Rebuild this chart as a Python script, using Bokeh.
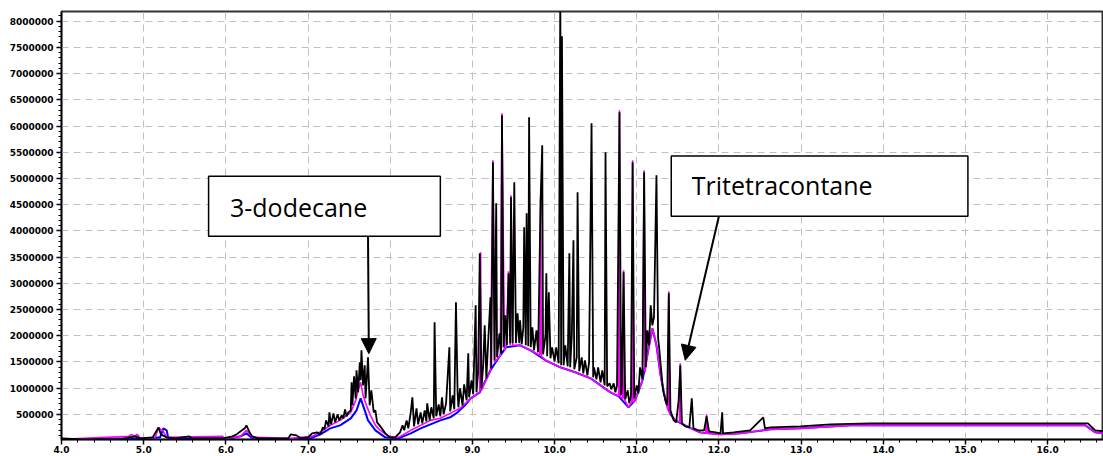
from bokeh.plotting import figure
from bokeh.models import (Range1d, SingleIntervalTicker, NumeralTickFormatter,
                          BoxAnnotation, Label, Arrow, NormalHead)
from bokeh.embed import file_html
from bokeh.resources import INLINE

# ---------------- data (retention time in min, abundance in counts) ----------------
black_t = [4.00, 4.27, 4.72, 4.82, 4.90, 4.96, 5.11, 5.18, 5.21, 5.28, 5.39, 5.55, 5.59, 5.96,
           6.08, 6.13, 6.18, 6.23, 6.25, 6.29, 6.32, 6.40, 6.76, 6.79, 6.86, 6.91, 7.00, 7.05,
           7.11, 7.15, 7.18, 7.20, 7.22, 7.25, 7.26, 7.28, 7.31, 7.33, 7.36, 7.38, 7.41, 7.43,
           7.45, 7.47, 7.49, 7.52, 7.53, 7.54, 7.56, 7.58, 7.59, 7.61, 7.63, 7.64, 7.65, 7.67,
           7.69, 7.70, 7.72, 7.73, 7.75, 7.77, 7.80, 7.82, 7.84, 7.88, 7.94, 8.00, 8.06, 8.12,
           8.15, 8.17, 8.20, 8.22, 8.25, 8.27, 8.29, 8.32, 8.34, 8.37, 8.39, 8.42, 8.44, 8.45,
           8.48, 8.50, 8.53, 8.54, 8.56, 8.59, 8.61, 8.63, 8.65, 8.68, 8.72, 8.73, 8.76, 8.78,
           8.80, 8.82, 8.83, 8.85, 8.88, 8.90, 8.93, 8.95, 8.96, 8.99, 9.01, 9.04, 9.05, 9.07,
           9.09, 9.11, 9.13, 9.15, 9.17, 9.19, 9.22, 9.23, 9.25, 9.27, 9.29, 9.30, 9.33, 9.35,
           9.36, 9.38, 9.40, 9.42, 9.44, 9.46, 9.47, 9.49, 9.51, 9.53, 9.55, 9.57, 9.58, 9.60,
           9.62, 9.63, 9.65, 9.66, 9.68, 9.69, 9.71, 9.73, 9.75, 9.78, 9.80, 9.83, 9.85, 9.86,
           9.89, 9.90, 9.91, 9.93, 9.95, 9.97, 10.00, 10.02, 10.05, 10.07, 10.08, 10.09, 10.11,
           10.13, 10.16, 10.18, 10.19, 10.21, 10.23, 10.24, 10.27, 10.28, 10.30, 10.33, 10.35,
           10.37, 10.40, 10.42, 10.45, 10.47, 10.48, 10.51, 10.53, 10.56, 10.58, 10.61, 10.62,
           10.64, 10.67, 10.69, 10.72, 10.74, 10.76, 10.79, 10.81, 10.82, 10.84, 10.86, 10.89,
           10.91, 10.93, 10.95, 10.97, 11.00, 11.02, 11.04, 11.07, 11.09, 11.11, 11.13, 11.15,
           11.17, 11.19, 11.21, 11.24, 11.26, 11.27, 11.30, 11.32, 11.35, 11.37, 11.39, 11.41,
           11.45, 11.48, 11.51, 11.53, 11.55, 11.59, 11.64, 11.67, 11.69, 11.75, 11.82, 11.85,
           11.88, 11.96, 12.02, 12.04, 12.05, 12.18, 12.38, 12.54, 12.56, 12.63, 12.99, 13.36,
           13.84, 14.82, 15.42, 16.03, 16.49, 16.58, 16.68]
black_y = [42000, 23000, 23000, 61000, 80000, 42000, 61000, 252000, 118000, 61000, 42000,
           80000, 42000, 42000, 80000, 118000, 176000, 233000, 290000, 156000, 80000, 42000,
           42000, 118000, 99000, 42000, 61000, 137000, 156000, 118000, 252000, 214000, 385000,
           271000, 538000, 309000, 519000, 347000, 500000, 385000, 481000, 424000, 595000,
           462000, 538000, 576000, 1111000, 672000, 1225000, 805000, 1340000, 920000, 1492000,
           1149000, 1721000, 1053000, 1435000, 805000, 1302000, 1588000, 672000, 958000,
           538000, 576000, 347000, 271000, 137000, 61000, 61000, 156000, 290000, 195000,
           385000, 233000, 538000, 824000, 271000, 615000, 309000, 538000, 328000, 576000,
           366000, 710000, 385000, 634000, 424000, 2256000, 462000, 691000, 462000, 824000,
           500000, 710000, 1779000, 557000, 863000, 595000, 2637000, 920000, 634000, 996000,
           672000, 1073000, 767000, 1664000, 824000, 1149000, 882000, 2580000, 920000,
           1302000, 3572000, 996000, 1397000, 2198000, 1187000, 1817000, 2733000, 1378000,
           5309000, 1531000, 4527000, 1588000, 2046000, 1664000, 6206000, 1779000, 2389000,
           1817000, 3191000, 1855000, 4641000, 1855000, 4928000, 1855000, 2427000, 1855000,
           2294000, 1836000, 2160000, 4069000, 1817000, 4336000, 1798000, 6168000, 1779000,
           2160000, 1721000, 2103000, 1683000, 4584000, 5634000, 1645000, 2008000, 3191000,
           1607000, 2828000, 1569000, 1779000, 1511000, 1779000, 1473000, 8600000, 1435000,
           7714000, 1435000, 1817000, 1416000, 3572000, 1397000, 2008000, 3821000, 1359000,
           1588000, 4737000, 1321000, 1588000, 1282000, 1531000, 1244000, 1492000, 6053000,
           1206000, 1397000, 1168000, 1397000, 1111000, 1340000, 1053000, 5500000, 1034000,
           1092000, 977000, 1092000, 920000, 1053000, 6263000, 863000, 1053000, 3210000,
           786000, 958000, 710000, 863000, 5309000, 805000, 1053000, 901000, 1397000, 1170000,
           5118000, 1397000, 2103000, 1817000, 2580000, 2198000, 2351000, 5061000, 1950000,
           1817000, 1302000, 958000, 767000, 672000, 2809000, 576000, 385000, 347000, 767000,
           1435000, 328000, 271000, 252000, 805000, 233000, 195000, 195000, 462000, 176000,
           156000, 137000, 538000, 137000, 156000, 195000, 443000, 233000, 252000, 271000,
           309000, 328000, 328000, 328000, 328000, 328000, 195000, 176000]

magenta_t = [4.00, 4.82, 4.85, 4.89, 4.92, 4.96, 5.14, 5.18, 5.23, 5.28, 5.96, 5.98, 6.18, 6.25,
             6.32, 6.79, 6.91, 7.05, 7.18, 7.27, 7.39, 7.52, 7.58, 7.61, 7.64, 7.67, 7.71, 7.76,
             7.82, 7.88, 7.98, 8.10, 8.25, 8.37, 8.49, 8.61, 8.73, 8.85, 8.98, 9.09, 9.10, 9.11,
             9.22, 9.25, 9.27, 9.34, 9.36, 9.39, 9.41, 9.44, 9.46, 9.47, 9.49, 9.58, 9.71, 9.82,
             9.83, 9.84, 9.89, 10.07, 10.25, 10.44, 10.56, 10.68, 10.78, 10.79, 10.80, 10.83,
             10.84, 10.85, 10.90, 10.94, 10.95, 10.96, 10.98, 11.07, 11.09, 11.10, 11.14, 11.19,
             11.24, 11.29, 11.35, 11.38, 11.39, 11.40, 11.47, 11.52, 11.53, 11.54, 11.66, 11.77,
             11.84, 11.85, 11.86, 12.02, 12.26, 12.63, 12.99, 13.60, 15.42, 16.46, 16.58, 16.68]
magenta_y = [23000, 80000, 118000, 80000, 118000, 42000, 61000, 233000, 195000, 61000, 80000,
             42000, 80000, 195000, 61000, 42000, 61000, 80000, 195000, 290000, 385000, 538000,
             767000, 958000, 1111000, 863000, 672000, 481000, 290000, 195000, 80000, 61000,
             195000, 290000, 385000, 424000, 519000, 615000, 805000, 920000, 3591000, 958000,
             1340000, 5347000, 1492000, 1626000, 6244000, 1721000, 1779000, 3229000, 1817000,
             4679000, 1817000, 1817000, 1721000, 1626000, 4622000, 1607000, 1531000, 1397000,
             1302000, 1187000, 1053000, 920000, 843000, 6301000, 824000, 805000, 3248000,
             786000, 634000, 729000, 5347000, 729000, 767000, 1149000, 5157000, 1302000,
             1721000, 2141000, 1817000, 1244000, 767000, 576000, 2847000, 519000, 385000,
             347000, 1473000, 328000, 233000, 156000, 137000, 500000, 137000, 118000, 137000,
             214000, 233000, 290000, 290000, 290000, 156000, 137000]

blue_t = [4.00, 5.08, 5.20, 5.24, 5.28, 5.30, 6.06, 6.18, 6.25, 6.32, 6.79, 7.03, 7.15, 7.27,
          7.39, 7.52, 7.59, 7.64, 7.69, 7.73, 7.82, 7.94, 8.10, 8.25, 8.37, 8.49, 8.61, 8.73,
          8.82, 8.91, 8.98, 9.09, 9.22, 9.34, 9.41, 9.58, 9.71, 9.89, 10.07, 10.25, 10.44,
          10.56, 10.68, 10.78, 10.90, 10.98, 11.07, 11.14, 11.19, 11.24, 11.29, 11.35, 11.41,
          11.47, 11.66, 11.77, 12.02, 12.26, 12.63, 12.99, 13.60, 15.42, 16.46, 16.58, 16.68]
blue_y = [23000, 42000, 61000, 233000, 195000, 42000, 42000, 80000, 137000, 42000, 23000,
          42000, 118000, 233000, 290000, 424000, 576000, 805000, 576000, 385000, 195000,
          61000, 42000, 137000, 233000, 309000, 385000, 443000, 538000, 672000, 805000,
          920000, 1340000, 1626000, 1779000, 1817000, 1721000, 1531000, 1397000, 1302000,
          1187000, 1053000, 920000, 843000, 634000, 767000, 1149000, 1721000, 2141000,
          1817000, 1244000, 767000, 500000, 385000, 233000, 156000, 118000, 137000, 214000,
          233000, 290000, 290000, 290000, 156000, 137000]

# annotation callouts (data coordinates)
label1_text = "3-dodecane"
label1_box = (5.79, 8.61, 3897000, 5042000)   # left, right, bottom, top
label1_pos = (6.05, 4456000)
arrow1 = (7.73, 3897000, 7.74, 1658000)

label2_text = "Tritetracontane"
label2_box = (11.42, 15.03, 4279000, 5429000)
label2_pos = (11.67, 4870000)
arrow2 = (12.00, 4279000, 11.59, 1531000)

# ---------------- figure ----------------
p = figure(width=1103, height=456, output_backend="svg", toolbar_location=None,
           x_range=Range1d(4.0, 16.68), y_range=Range1d(20000, 8185000),
           min_border_left=61, min_border_top=11, min_border_right=0, min_border_bottom=17,
           background_fill_color="white", border_fill_color="white")

p.line(blue_t, blue_y, line_color="#0000ff", line_width=2)
p.line(magenta_t, magenta_y, line_color="#ff00ff", line_width=1.6)
p.line(black_t, black_y, line_color="black", line_width=1.8)

p.xaxis.ticker = SingleIntervalTicker(interval=1, num_minor_ticks=5)
p.yaxis.ticker = SingleIntervalTicker(interval=500000, num_minor_ticks=5)
p.xaxis.formatter = NumeralTickFormatter(format="0.0")
p.yaxis.formatter = NumeralTickFormatter(format="0")

for ax in (p.xaxis[0], p.yaxis[0]):
    ax.axis_line_color = "black"
    ax.axis_line_width = 1.5
    ax.major_tick_line_color = "black"
    ax.major_tick_line_width = 1.5
    ax.minor_tick_line_color = "black"
    ax.major_tick_out = 5
    ax.major_tick_in = 0
    ax.minor_tick_out = 3
    ax.minor_tick_in = 0
    ax.major_label_text_font = "DejaVu Sans"
    ax.major_label_text_font_style = "bold"
    ax.major_label_text_font_size = "9px"
    ax.major_label_text_color = "black"
p.xaxis.major_label_standoff = 1
p.yaxis.major_label_standoff = 3

for g in (p.xgrid[0], p.ygrid[0]):
    g.grid_line_color = "#c0c0c0"
    g.grid_line_dash = "7 5"
    g.grid_line_width = 1

p.outline_line_color = "#333333"
p.outline_line_width = 2

for box, pos, txt, arr in ((label1_box, label1_pos, label1_text, arrow1),
                           (label2_box, label2_pos, label2_text, arrow2)):
    p.add_layout(BoxAnnotation(left=box[0], right=box[1], bottom=box[2], top=box[3],
                               fill_color="white", fill_alpha=1.0,
                               line_color="black", line_width=1.5, line_alpha=1.0))
    p.add_layout(Label(x=pos[0], y=pos[1], text=txt, text_font="Open Sans",
                       text_font_size="25px", text_color="black",
                       text_baseline="middle", text_align="left"))
    p.add_layout(Arrow(end=NormalHead(size=15, fill_color="black", line_color="black"),
                       x_start=arr[0], y_start=arr[1], x_end=arr[2], y_end=arr[3],
                       line_color="black", line_width=2))

open("out.html", "w").write(file_html(p, INLINE))
